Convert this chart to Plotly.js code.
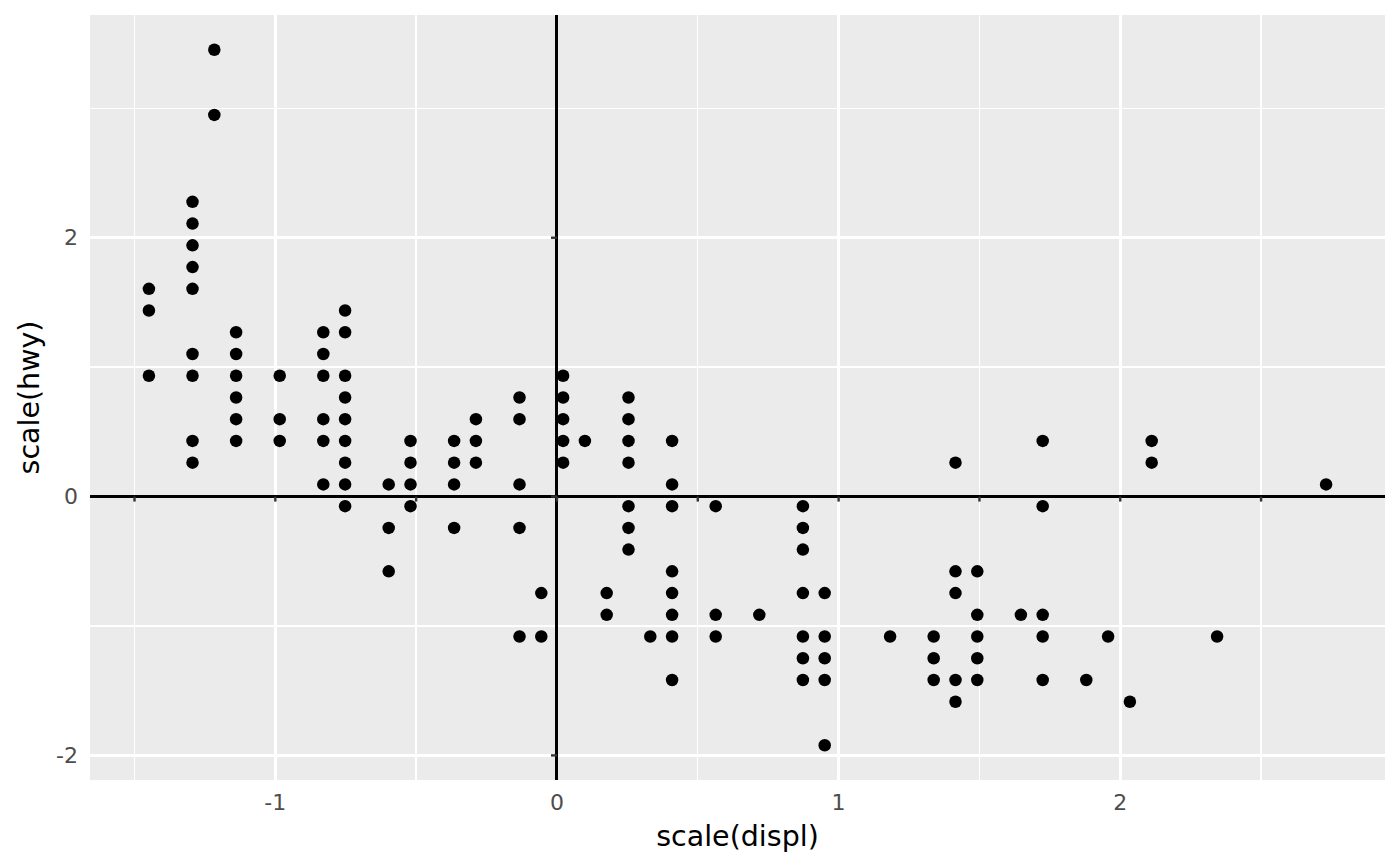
<!DOCTYPE html>
<html>
<head>
<meta charset="utf-8">
<script src="https://cdn.plot.ly/plotly-3.0.1.min.js"></script>
<style>html,body{margin:0;padding:0;background:#fff;}#plot{width:1400px;height:866px;}</style>
</head>
<body>
<div id="plot"></div>
<script>
// scale(displ) values, one per plotted point (overlapping duplicates omitted)
var scaledDispl = [
  -1.4488,-1.4488,-1.4488,
  -1.2940,-1.2940,-1.2940,-1.2940,-1.2940,-1.2940,-1.2940,-1.2940,-1.2940,
  -1.2166,-1.2166,
  -1.1392,-1.1392,-1.1392,-1.1392,-1.1392,-1.1392,
  -0.9844,-0.9844,-0.9844,
  -0.8296,-0.8296,-0.8296,-0.8296,-0.8296,-0.8296,
  -0.7522,-0.7522,-0.7522,-0.7522,-0.7522,-0.7522,-0.7522,-0.7522,-0.7522,
  -0.5974,-0.5974,-0.5974,
  -0.5200,-0.5200,-0.5200,-0.5200,
  -0.3652,-0.3652,-0.3652,-0.3652,
  -0.2878,-0.2878,-0.2878,
  -0.1330,-0.1330,-0.1330,-0.1330,-0.1330,
  -0.0556,-0.0556,
  0.0218,0.0218,0.0218,0.0218,0.0218,
  0.0992,
  0.1766,0.1766,
  0.2540,0.2540,0.2540,0.2540,0.2540,0.2540,0.2540,
  0.3314,
  0.4088,0.4088,0.4088,0.4088,0.4088,0.4088,0.4088,0.4088,
  0.5636,0.5636,0.5636,
  0.7184,
  0.8732,0.8732,0.8732,0.8732,0.8732,0.8732,0.8732,
  0.9506,0.9506,0.9506,0.9506,0.9506,
  1.1828,
  1.3376,1.3376,1.3376,
  1.4150,1.4150,1.4150,1.4150,1.4150,
  1.4924,1.4924,1.4924,1.4924,1.4924,
  1.6472,
  1.7246,1.7246,1.7246,1.7246,1.7246,
  1.8794,
  1.9568,
  2.0342,
  2.1116,2.1116,
  2.3438,
  2.7308
];
// scale(hwy) values, matching scaledDispl point by point
var scaledHwy = [
  1.6054,1.4375,0.9337,
  2.2772,2.1092,1.9413,1.7734,1.6054,1.1016,0.9337,0.4299,0.2619,
  3.4527,2.9489,
  1.2696,1.1016,0.9337,0.7657,0.5978,0.4299,
  0.9337,0.5978,0.4299,
  1.2696,1.1016,0.9337,0.5978,0.4299,0.0940,
  1.4375,1.2696,0.9337,0.7657,0.5978,0.4299,0.2619,0.0940,-0.0739,
  0.0940,-0.2419,-0.5777,
  0.4299,0.2619,0.0940,-0.0739,
  0.4299,0.2619,0.0940,-0.2419,
  0.5978,0.4299,0.2619,
  0.7657,0.5978,0.0940,-0.2419,-1.0815,
  -0.7457,-1.0815,
  0.9337,0.7657,0.5978,0.4299,0.2619,
  0.4299,
  -0.7457,-0.9136,
  0.7657,0.5978,0.4299,0.2619,-0.0739,-0.2419,-0.4098,
  -1.0815,
  0.4299,0.0940,-0.0739,-0.5777,-0.7457,-0.9136,-1.0815,-1.4174,
  -0.0739,-0.9136,-1.0815,
  -0.9136,
  -0.0739,-0.2419,-0.4098,-0.7457,-1.0815,-1.2495,-1.4174,
  -0.7457,-1.0815,-1.2495,-1.4174,-1.9212,
  -1.0815,
  -1.0815,-1.2495,-1.4174,
  0.2619,-0.5777,-0.7457,-1.4174,-1.5853,
  -0.5777,-0.9136,-1.0815,-1.2495,-1.4174,
  -0.9136,
  0.4299,-0.0739,-0.9136,-1.0815,-1.4174,
  -1.4174,
  -1.0815,
  -1.5853,
  0.4299,0.2619,
  -1.0815,
  0.0940
];

var xMajorTicks = [-1, 0, 1, 2];
var xMinorTicks = [-1.5, -0.5, 0.5, 1.5, 2.5];
var yMajorTicks = [-2, 0, 2];
var yMinorTicks = [-1, 1, 3];
var xRange = [-1.658, 2.940];
var yRange = [-2.190, 3.721];

var FONT = 'DejaVu Sans, sans-serif';

var shapes = [];
xMajorTicks.concat(xMinorTicks).forEach(function (v) {
  shapes.push({type: 'line', xref: 'x', yref: 'y', ysizemode: 'pixel', yanchor: 0,
    x0: v, x1: v, y0: 0, y1: -5, line: {color: '#333333', width: 2.4}, layer: 'above'});
});
yMajorTicks.forEach(function (v) {
  shapes.push({type: 'line', xref: 'x', yref: 'y', xsizemode: 'pixel', xanchor: 0,
    y0: v, y1: v, x0: 0, x1: -6, line: {color: '#333333', width: 2.4}, layer: 'above'});
});

var trace = {
  x: scaledDispl, y: scaledHwy, type: 'scatter', mode: 'markers',
  marker: {color: '#000000', size: 12.5, line: {width: 0}},
  hoverinfo: 'x+y'
};

var layout = {
  width: 1400, height: 866,
  margin: {l: 90, r: 15, t: 15, b: 86},
  paper_bgcolor: '#ffffff', plot_bgcolor: '#EBEBEB',
  showlegend: false,
  font: {family: FONT, color: '#000000'},
  xaxis: {
    range: xRange, tickmode: 'array', tickvals: xMajorTicks,
    ticktext: xMajorTicks.map(String),
    ticks: '', showline: false,
    showgrid: true, gridcolor: '#FFFFFF', gridwidth: 2.7,
    minor: {tickmode: 'array', tickvals: xMinorTicks, showgrid: true, gridcolor: '#FFFFFF', gridwidth: 1.4},
    zeroline: true, zerolinecolor: '#000000', zerolinewidth: 3.0,
    tickfont: {family: FONT, size: 22, color: '#4D4D4D'},
    ticklabelstandoff: 7,
    title: {text: 'scale(displ)', font: {family: FONT, size: 28.5, color: '#000000'}, standoff: 12}
  },
  yaxis: {
    range: yRange, tickmode: 'array', tickvals: yMajorTicks,
    ticktext: yMajorTicks.map(String),
    ticks: '', showline: false,
    showgrid: true, gridcolor: '#FFFFFF', gridwidth: 2.7,
    minor: {tickmode: 'array', tickvals: yMinorTicks, showgrid: true, gridcolor: '#FFFFFF', gridwidth: 1.4},
    zeroline: true, zerolinecolor: '#000000', zerolinewidth: 3.0,
    tickfont: {family: FONT, size: 22, color: '#4D4D4D'},
    ticklabelstandoff: 11,
    title: {text: 'scale(hwy)', font: {family: FONT, size: 28.5, color: '#000000'}, standoff: 8}
  },
  shapes: shapes
};

Plotly.newPlot('plot', [trace], layout, {displayModeBar: false, staticPlot: true});
</script>
</body>
</html>
